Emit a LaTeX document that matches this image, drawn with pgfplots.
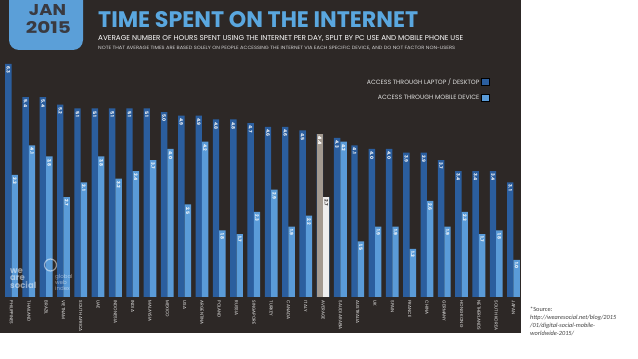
\documentclass[border=0pt]{standalone}
\usepackage{pgfplots}
\pgfplotsset{compat=1.18}
\usepackage{pgfplotstable}
\usepackage{fontspec}
\setmainfont{Poppins}
\newfontfamily\srcfont{Carlito}
\definecolor{bg}{HTML}{2D2826}
\definecolor{pc}{HTML}{2B5E9E}
\definecolor{mob}{HTML}{5A9BD8}
\definecolor{avgpc}{HTML}{A39A90}
\definecolor{avgmob}{HTML}{EEEEEE}
\definecolor{badge}{HTML}{5B9FD8}
\definecolor{titleblue}{HTML}{5AA7DF}
\definecolor{badgetext}{HTML}{3A3A40}

\pgfplotstableread{
x pc mob
0 6.3 3.3
1 5.4 4.1
2 5.4 3.8
3 5.2 2.7
4 5.1 3.1
5 5.1 3.8
6 5.1 3.2
7 5.1 3.4
8 5.1 3.7
9 5.0 4.0
10 4.9 2.5
11 4.9 4.2
12 4.8 1.8
13 4.8 1.7
14 4.7 2.3
15 4.6 2.9
16 4.6 1.9
17 4.5 2.2
18 4.4 2.7
19 4.3 4.2
20 4.1 1.5
21 4.0 1.9
22 4.0 1.9
23 3.9 1.3
24 3.9 2.6
25 3.7 1.9
26 3.4 2.3
27 3.4 1.7
28 3.4 1.8
29 3.1 1.0
}\data

\pgfplotstableread{
x pc mob
18 4.4 2.7
}\avgdata

\begin{document}
\begin{tikzpicture}[x=1pt,y=1pt]
\useasboundingbox (0,0) rectangle (638,359);
\clip (0,0) rectangle (638,359);
\fill[white] (0,0) rectangle (638,359);
\fill[bg] (0,26) rectangle (521,359);
% badge
\fill[badge, rounded corners=10pt] (9,309) rectangle (83,375);
\node[inner sep=0pt, anchor=south, text=badgetext] at (47.5,343) {\resizebox{37pt}{11pt}{\bfseries JAN}};
\node[inner sep=0pt, anchor=south, text=badgetext] at (48.5,325) {\resizebox{45pt}{12pt}{\bfseries 2015}};
% titles
\node[inner sep=0pt, anchor=south west, text=titleblue] at (98,331) {\resizebox{320pt}{16pt}{\bfseries TIME SPENT ON THE INTERNET}};
\node[inner sep=0pt, anchor=south west, text=white] at (98,317) {\resizebox{365pt}{5pt}{\fontsize{10}{12}\selectfont AVERAGE NUMBER OF HOURS SPENT USING THE INTERNET PER DAY, SPLIT BY PC USE AND MOBILE PHONE USE}};
\node[inner sep=0pt, anchor=south west, text=white!80!bg] at (98,309) {\resizebox{357pt}{3.3pt}{\fontsize{10}{12}\selectfont NOTE THAT AVERAGE TIMES ARE BASED SOLELY ON PEOPLE ACCESSING THE INTERNET VIA EACH SPECIFIC DEVICE, AND DO NOT FACTOR NON-USERS}};

\begin{axis}[
  at={(2.85pt,62pt)}, anchor=south west, scale only axis,
  width=519.3pt, height=233.1pt,
  xmin=-0.5, xmax=29.5, ymin=0, ymax=6.3,
  hide y axis,
  axis x line*=bottom, x axis line style={draw=none},
  xtick={0,...,29},
  xticklabels={PHILIPPINES,THAILAND,BRAZIL,VIETNAM,{SOUTH AFRICA},UAE,INDONESIA,INDIA,MALAYSIA,MEXICO,USA,ARGENTINA,POLAND,RUSSIA,SINGAPORE,TURKEY,CANADA,ITALY,AVERAGE,{SAUDI ARABIA},AUSTRALIA,UK,SPAIN,FRANCE,CHINA,GERMANY,{HONG KONG},NETHERLANDS,{SOUTH KOREA},JAPAN},
  major tick length=0pt,
  xticklabel style={rotate=-90, anchor=west, font=\fontsize{4.4}{5}\selectfont, text=white!90!bg, inner sep=0pt},
  xticklabel shift=3.5pt,
  ybar, bar width=6.4pt,
  clip=false,
  nodes near coords,
  /pgf/number format/assume math mode=true,
  /pgf/number format/.cd, fixed, fixed zerofill, precision=1, /pgfplots/.cd,
  every node near coord/.append style={rotate=-90, anchor=west, inner sep=2.5pt, font=\bfseries\fontsize{4.6}{5}\selectfont, text=white},
  legend plot pos=right,
  legend cell align=right,
  legend image code/.code={\draw[#1] (0pt,-3.6pt) rectangle (8pt,3.6pt);},
  legend style={at={(0.938,0.948)}, anchor=north east, draw=none, fill=none, inner sep=0pt, row sep=5.3pt, font=\fontsize{6.2}{7}\selectfont, text=white!85!bg, /tikz/every even column/.append style={column sep=3pt}},
]
\addplot[fill=pc, draw=none, bar shift=-3.2pt] table[x=x, y=pc] {\data};
\addlegendentry{ACCESS THROUGH LAPTOP / DESKTOP}
\addplot[fill=mob, draw=none, bar shift=3.2pt] table[x=x, y=mob] {\data};
\addlegendentry{ACCESS THROUGH MOBILE DEVICE}
\addplot[fill=avgpc, draw=none, bar shift=-3.2pt, forget plot] table[x=x, y=pc] {\avgdata};
\addplot[fill=avgmob, draw=none, bar shift=3.2pt, forget plot, every node near coord/.append style={text=bg}] table[x=x, y=mob] {\avgdata};
\end{axis}

% logos
\begin{scope}[opacity=0.5]
\node[inner sep=0pt, anchor=north west, text=white, align=left, font=\bfseries\fontsize{8.5}{7.5}\selectfont] at (10,91) {we\\are\\social};
\draw[white, line width=1.2pt] (50.5,94) circle (6pt);
\node[inner sep=0pt, anchor=north west, text=white, align=left, font=\fontsize{5.5}{6}\selectfont] at (55,85) {global\\web\\index};
\end{scope}

% source
\node[inner sep=0pt, anchor=west, text=black!75, align=left, font=\srcfont\fontsize{6.3}{8}\selectfont] at (530,38) {*Source:\\{\itshape http://wearesocial.net/blog/2015}\\{\itshape /01/digital-social-mobile-}\\{\itshape worldwide-2015/}};
\end{tikzpicture}
\end{document}
